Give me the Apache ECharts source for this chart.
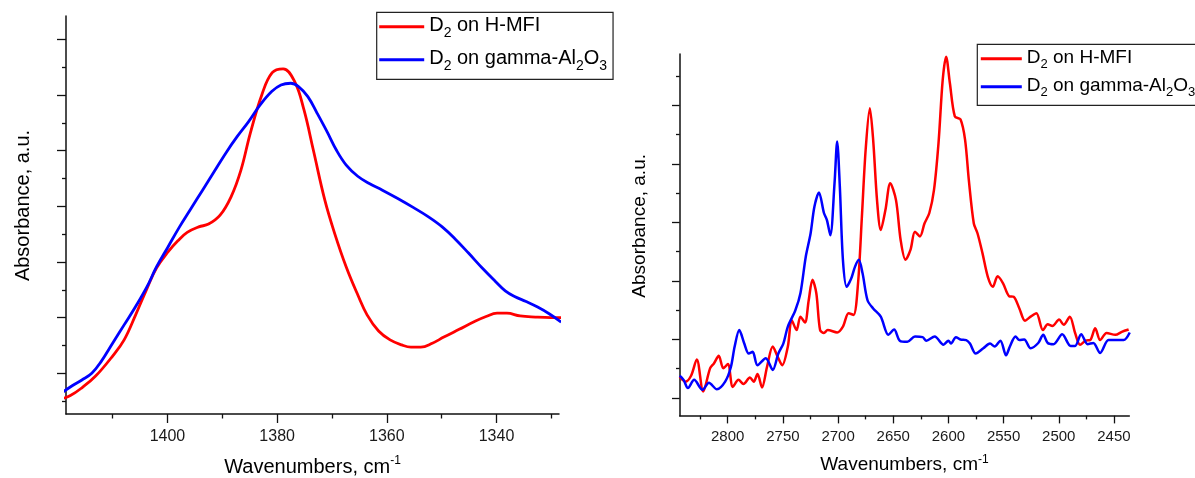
<!DOCTYPE html>
<html><head><meta charset="utf-8">
<script src="https://cdn.jsdelivr.net/npm/echarts@6/dist/echarts.min.js"></script>
<style>html,body{margin:0;padding:0;background:#fff}#c{width:1195px;height:478px}</style>
</head><body><div id="c"></div>
<script>
// ---- series names ----
const nameMFI = 'D2 on H-MFI';
const nameAl = 'D2 on gamma-Al2O3';

// ---- left panel: ~1420-1328 cm-1 ----
const leftRedX = [1419.4,1417.7,1415.6,1413.1,1410.0,1407.9,1405.8,1403.7,1402.0,1399.9,1398.1,1396.4,1394.3,1392.5,1390.4,1388.4,1386.6,1384.9,1382.8,1380.9,1378.9,1376.8,1375.1,1373.4,1371.3,1369.5,1367.4,1365.3,1363.6,1361.5,1359.4,1357.3,1355.6,1353.8,1351.7,1349.6,1346.8,1344.0,1341.9,1339.9,1338.1,1335.7,1332.9,1330.1,1326.8];
const leftRedY = [-0.46,-0.40,-0.26,-0.05,0.31,0.60,1.05,1.53,1.89,2.18,2.38,2.53,2.63,2.68,2.84,3.17,3.65,4.31,5.00,5.40,5.47,5.24,4.73,4.01,3.11,2.51,1.91,1.41,1.05,0.76,0.60,0.51,0.47,0.47,0.54,0.65,0.79,0.93,1.02,1.08,1.08,1.03,1.01,1.00,1.00];
const leftBlueX = [1419.4,1417.3,1415.6,1413.8,1412.1,1410.0,1407.9,1405.8,1403.7,1402.0,1399.9,1397.8,1395.7,1393.6,1391.5,1389.4,1387.3,1385.2,1383.1,1381.0,1379.3,1377.5,1376.1,1374.4,1372.7,1370.9,1369.2,1367.4,1365.3,1363.2,1360.8,1358.0,1355.2,1352.4,1349.9,1347.5,1345.1,1342.6,1340.2,1338.4,1336.7,1334.6,1332.5,1330.4,1328.2];
const leftBlueY = [-0.36,-0.22,-0.12,0.00,0.21,0.54,0.87,1.20,1.56,1.91,2.27,2.63,2.96,3.29,3.62,3.95,4.25,4.52,4.82,5.06,5.18,5.21,5.15,4.97,4.67,4.34,4.01,3.74,3.54,3.41,3.29,3.14,2.98,2.81,2.63,2.41,2.16,1.89,1.65,1.48,1.38,1.29,1.19,1.07,0.92];

// ---- right panel: ~2843-2436 cm-1 ----
const rightRedX = [2843.5,2838.3,2833.2,2828.0,2822.2,2815.9,2812.5,2808.1,2804.0,2799.8,2795.4,2790.2,2785.7,2779.9,2776.4,2773.0,2768.9,2764.4,2759.2,2754.8,2750.6,2745.5,2742.0,2737.6,2734.1,2730.0,2726.6,2723.2,2719.7,2716.3,2712.8,2709.4,2700.8,2695.6,2690.5,2686.0,2681.9,2678.4,2675.0,2671.2,2668.2,2664.7,2661.3,2657.1,2652.7,2647.5,2643.3,2638.9,2634.4,2630.3,2625.8,2621.7,2617.3,2613.1,2609.0,2605.2,2602.1,2598.7,2594.2,2589.1,2584.9,2581.5,2577.0,2573.6,2569.1,2564.3,2559.8,2555.4,2550.5,2545.0,2540.9,2535.7,2530.6,2525.5,2520.3,2514.4,2510.0,2505.8,2499.7,2495.5,2490.0,2485.2,2480.7,2475.6,2471.5,2467.0,2462.5,2456.7,2448.7,2442.9,2436.7];
const rightRedY = [0.36,0.28,0.38,0.66,0.11,0.51,0.59,0.72,0.51,0.58,0.19,0.31,0.24,0.35,0.28,0.41,0.18,0.53,0.88,0.71,0.56,0.88,1.33,1.16,1.39,1.29,1.67,2.02,1.79,1.16,1.11,1.16,1.12,1.22,1.45,1.42,1.96,3.10,4.24,4.95,4.41,3.38,2.87,3.21,3.67,3.38,2.70,2.36,2.53,2.84,2.76,2.98,3.16,3.55,4.35,5.43,5.83,5.38,4.81,4.76,4.41,3.72,2.98,2.81,2.47,2.07,1.90,2.08,1.96,1.74,1.73,1.53,1.32,1.39,1.45,1.16,1.26,1.23,1.34,1.25,1.39,1.11,0.91,0.98,0.99,1.19,0.99,1.11,1.08,1.13,1.17];
const rightBlueX = [2843.5,2840.0,2836.0,2830.4,2822.8,2817.0,2809.8,2802.3,2797.1,2793.7,2789.5,2785.0,2780.9,2777.4,2773.0,2765.5,2759.2,2754.1,2749.6,2745.5,2738.7,2734.1,2729.3,2724.9,2721.4,2717.3,2712.8,2710.1,2707.0,2703.2,2700.8,2698.4,2695.6,2692.2,2688.1,2684.7,2681.2,2677.8,2673.3,2668.2,2661.3,2654.4,2649.2,2644.1,2637.2,2630.3,2623.4,2620.0,2612.4,2604.5,2600.0,2597.7,2593.2,2589.1,2583.9,2580.5,2575.3,2568.4,2562.3,2558.1,2552.9,2547.8,2544.3,2539.2,2535.7,2531.3,2525.5,2518.6,2514.1,2510.0,2504.8,2496.9,2489.3,2485.2,2479.7,2473.9,2468.7,2462.5,2455.0,2448.1,2441.2,2435.7];
const rightBlueY = [0.38,0.31,0.17,0.31,0.14,0.26,0.15,0.28,0.53,0.88,1.16,0.93,0.76,0.79,0.56,0.68,0.48,0.76,0.93,1.22,1.50,1.79,2.41,2.81,3.27,3.51,3.16,3.04,2.78,3.67,4.38,3.61,2.36,1.90,2.04,2.24,2.36,2.13,1.67,1.53,1.39,1.08,1.17,0.98,0.96,1.05,1.04,0.98,1.05,0.91,0.98,0.93,1.04,1.00,0.99,0.93,0.76,0.85,0.93,0.88,0.98,0.73,0.88,1.05,0.99,1.00,0.85,0.94,1.08,0.94,0.92,1.09,0.89,0.89,1.09,0.92,0.94,0.77,0.99,0.99,0.99,1.12];

// ---- tick values ----
const leftXTicks = [1400, 1380, 1360, 1340];
const leftXMinor = [1410, 1390, 1370, 1350, 1330];
const leftYMajor = [0, 1, 2, 3, 4, 5, 6];
const leftYMinor = [-0.5, 0.5, 1.5, 2.5, 3.5, 4.5, 5.5];
const rightXTicks = [2800, 2750, 2700, 2650, 2600, 2550, 2500, 2450];
const rightXMinor = [2825, 2775, 2725, 2675, 2625, 2575, 2525, 2475];
const rightYMajor = [0, 1, 2, 3, 4, 5];
const rightYMinor = [0.5, 1.5, 2.5, 3.5, 4.5, 5.5];

const FONT = 'Liberation Sans, Arial, Helvetica, sans-serif';
const AX = '#111';
const RED = '#ff0000', BLUE = '#0000ff';

function pairs(xs, ys) { return xs.map((x, i) => [x, ys[i]]); }

function xAxes(grid, min, max, majors, minors, lblSize, majLen, minLen, lblMargin, nameSize, nameGap) {
  const base = { type: 'value', gridIndex: grid, min: min, max: max, inverse: true, position: 'bottom', splitLine: { show: false } };
  return [
    Object.assign({}, base, {
      axisLine: { show: true, onZero: false, lineStyle: { color: AX, width: 1.5 } },
      axisTick: { show: true, customValues: majors, length: majLen, lineStyle: { color: AX, width: 1.3 } },
      axisLabel: { show: true, customValues: majors, fontSize: lblSize, fontFamily: FONT, color: '#1a1a1a', margin: lblMargin,
                   formatter: (v) => String(Math.round(v)) },
      name: '{a|Wavenumbers, cm}{b|-1}', nameLocation: 'middle', nameGap: nameGap,
      nameTextStyle: { fontFamily: FONT, color: '#000', fontSize: nameSize,
        rich: { a: { fontFamily: FONT, fontSize: nameSize, lineHeight: nameSize + 2, verticalAlign: 'bottom', color: '#000' },
                b: { fontFamily: FONT, fontSize: Math.round(nameSize * 0.62), lineHeight: 12, verticalAlign: 'top', color: '#000' } } }
    }),
    Object.assign({}, base, {
      axisLine: { show: false, onZero: false },
      axisTick: { show: true, customValues: minors, length: minLen, lineStyle: { color: AX, width: 1.3 } },
      axisLabel: { show: false }
    })
  ];
}

function yAxes(grid, min, max, majors, minors, majLen, minLen, nameSize, nameGap, shift) {
  const base = { type: 'value', gridIndex: grid, min: min, max: max, position: 'left', splitLine: { show: false } };
  return [
    Object.assign({}, base, {
      axisLine: { show: true, onZero: false, lineStyle: { color: AX, width: 1.5 } },
      axisTick: { show: true, customValues: majors, length: majLen, lineStyle: { color: AX, width: 1.3 } },
      axisLabel: { show: false },
      name: 'Absorbance, a.u.', nameLocation: 'middle', nameGap: nameGap,
      nameTextStyle: { fontFamily: FONT, color: '#000', fontSize: nameSize, padding: [0, 0, 0, shift] }
    }),
    Object.assign({}, base, {
      axisLine: { show: false, onZero: false },
      axisTick: { show: true, customValues: minors, length: minLen, lineStyle: { color: AX, width: 1.3 } },
      axisLabel: { show: false }
    })
  ];
}

const legendRich = (size) => ({
  n: { fontFamily: FONT, fontSize: size, lineHeight: size + 3, verticalAlign: 'top', color: '#000' },
  s: { fontFamily: FONT, fontSize: Math.round(size * 0.68), lineHeight: Math.round(size * 0.68), padding: [Math.round(size * 0.55), 0, 0, 0], verticalAlign: 'top', color: '#000' }
});
const legendFmt = (name) => name === nameMFI
  ? '{n|D}{s|2}{n| on H-MFI}'
  : '{n|D}{s|2}{n| on gamma-Al}{s|2}{n|O}{s|3}';

function legend(left, top, size, itemW, gap, pad) {
  return {
    data: [nameMFI, nameAl], orient: 'vertical', left: left, top: top,
    icon: 'rect', itemWidth: itemW, itemHeight: 3, itemGap: gap, selectedMode: false,
    borderColor: '#222', borderWidth: 1.2, padding: pad, backgroundColor: '#fff',
    formatter: legendFmt,
    textStyle: { fontFamily: FONT, fontSize: size, color: '#000', rich: legendRich(size) }
  };
}

const chart = echarts.init(document.getElementById('c'), null, { renderer: 'canvas' });

const lxa = xAxes(0, 1328.6, 1418.5, leftXTicks, leftXMinor, 16, 9, 4.5, 15, 20, 41);
const rxa = xAxes(1, 2436.1, 2843.5, rightXTicks, rightXMinor, 15, 7.7, 3.7, 14, 19, 38);
const lya = yAxes(0, -0.731, 6.418, leftYMajor, leftYMinor, 9, 4, 20, 33, 19);
const rya = yAxes(1, -0.302, 5.876, rightYMajor, rightYMinor, 7.7, 3.7, 19, 30, 18);

function line(name, data, xi, yi, color, w, smooth) {
  return { type: 'line', name: name, data: data, xAxisIndex: xi, yAxisIndex: yi,
    showSymbol: false, symbol: 'none', smooth: smooth, clip: false, animation: false,
    lineStyle: { color: color, width: w }, itemStyle: { color: color } };
}

chart.setOption({
  animation: false,
  backgroundColor: '#fff',
  grid: [
    { left: 66, top: 16, width: 493, height: 398, containLabel: false, outerBoundsMode: 'none' },
    { left: 679.7, top: 54, width: 449.6, height: 361.7, containLabel: false, outerBoundsMode: 'none' }
  ],
  xAxis: [lxa[0], lxa[1], rxa[0], rxa[1]],
  yAxis: [lya[0], lya[1], rya[0], rya[1]],
  legend: [
    legend(376.7, 12.3, 20, 45, 8, [3, 6, 6, 2.5]),
    legend(977.3, 44.3, 19, 41, 5, [3.5, 14, 6.5, 3.5])
  ],
  series: [
    line(nameMFI, pairs(leftRedX, leftRedY), 0, 0, RED, 2.8, 0.4),
    line(nameAl, pairs(leftBlueX, leftBlueY), 0, 0, BLUE, 2.8, 0.4),
    line(nameMFI, pairs(rightRedX, rightRedY), 2, 2, RED, 2.5, 0.3),
    line(nameAl, pairs(rightBlueX, rightBlueY), 2, 2, BLUE, 2.5, 0.3)
  ]
});
</script>
</body></html>
